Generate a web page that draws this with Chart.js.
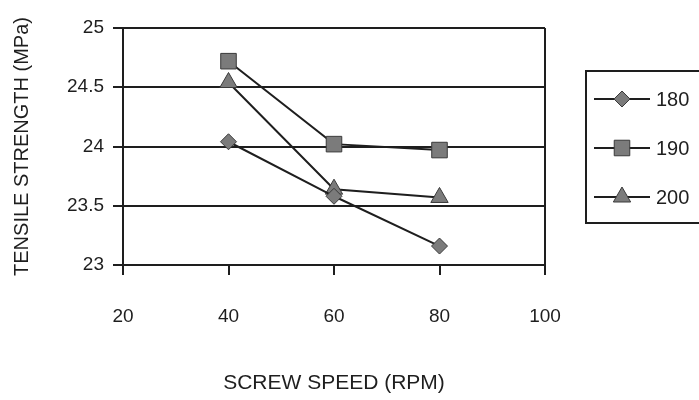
<!DOCTYPE html>
<html>
<head>
<meta charset="utf-8">
<title>Tensile strength vs screw speed</title>
<script src="https://cdn.jsdelivr.net/npm/chart.js@4/dist/chart.umd.min.js"></script>
<style>
  html, body { margin: 0; padding: 0; background: #ffffff; }
  #wrap { width: 699px; height: 400px; }
</style>
</head>
<body>
<div id="wrap"><canvas id="c" width="699" height="400"></canvas></div>
<script>
// Screw speed (RPM) and tensile strength (MPa) for three barrel temperatures
const screwSpeed = [40, 60, 80];
const temp180 = [24.04, 23.58, 23.16];
const temp190 = [24.72, 24.02, 23.97];
const temp200 = [24.54, 23.64, 23.57];
const seriesLabels = ['180', '190', '200'];

const xTicks = [20, 40, 60, 80, 100];
const yTicks = [23, 23.5, 24, 24.5, 25];

const INK = '#1e1e1e';
const MARK = '#7b7b7b';
const FONT = "'Liberation Sans', Arial, sans-serif";

function toPoints(values) {
  return screwSpeed.map((s, i) => ({ x: s, y: values[i] }));
}

const styles = [
  { pointStyle: 'rectRot', pointRadius: 8 },
  { pointStyle: 'rect', pointRadius: 11 },
  { pointStyle: 'triangle', pointRadius: 10 }
];

const datasets = [temp180, temp190, temp200].map((vals, i) => ({
  label: seriesLabels[i],
  data: toPoints(vals),
  borderColor: INK,
  borderWidth: 2,
  backgroundColor: MARK,
  pointBackgroundColor: MARK,
  pointBorderColor: '#3a3a3a',
  pointBorderWidth: 1,
  pointStyle: styles[i].pointStyle,
  pointRadius: styles[i].pointRadius,
  tension: 0
}));

// Boxed legend on the right-hand side
const boxLegend = {
  id: 'boxLegend',
  afterDraw(chart) {
    const ctx = chart.ctx;
    ctx.save();
    ctx.strokeStyle = INK;
    ctx.lineWidth = 2;
    ctx.strokeRect(586, 71, 130, 152);
    const rows = [99, 148, 197];
    chart.data.datasets.forEach((ds, i) => {
      const y = rows[i];
      ctx.strokeStyle = INK;
      ctx.lineWidth = 2;
      ctx.beginPath();
      ctx.moveTo(594, y);
      ctx.lineTo(650, y);
      ctx.stroke();
      ctx.fillStyle = MARK;
      ctx.strokeStyle = '#3a3a3a';
      ctx.lineWidth = 1;
      Chart.helpers.drawPoint(ctx, {
        pointStyle: ds.pointStyle,
        radius: ds.pointRadius,
        rotation: 0,
        borderWidth: 1
      }, 622, y);
      ctx.fillStyle = INK;
      ctx.font = '20px ' + FONT;
      ctx.textBaseline = 'middle';
      ctx.textAlign = 'left';
      ctx.fillText(ds.label, 656, y + 1);
    });
    ctx.restore();
  }
};

new Chart(document.getElementById('c'), {
  type: 'line',
  data: { datasets },
  options: {
    responsive: false,
    animation: false,
    devicePixelRatio: 1,
    layout: { padding: { top: 28, right: 154, left: 0, bottom: 0 } },
    plugins: {
      legend: { display: false },
      tooltip: { enabled: false }
    },
    scales: {
      x: {
        type: 'linear',
        min: 20,
        max: 100,
        afterBuildTicks(scale) { scale.ticks = xTicks.map(v => ({ value: v })); },
        afterFit(scale) { scale.height = 135; },
        border: { display: true, color: INK, width: 2 },
        grid: {
          drawOnChartArea: true,
          color: c => (c.tick && c.tick.value === 100 ? INK : 'rgba(0,0,0,0)'),
          lineWidth: 2,
          tickColor: INK,
          tickLength: 10
        },
        ticks: {
          color: INK,
          padding: 30,
          maxRotation: 0,
          callback: v => String(v),
          font: { family: FONT, size: 19 }
        },
        title: {
          display: true,
          text: 'SCREW SPEED (RPM)',
          color: INK,
          font: { family: FONT, size: 21 },
          padding: { top: 0, bottom: 4 }
        }
      },
      y: {
        min: 23,
        max: 25,
        afterBuildTicks(scale) { scale.ticks = yTicks.map(v => ({ value: v })); },
        afterFit(scale) { scale.width = 123; },
        border: { display: true, color: INK, width: 2 },
        grid: {
          color: INK,
          lineWidth: 2,
          tickColor: INK,
          tickLength: 10
        },
        ticks: {
          color: INK,
          padding: 9,
          callback: v => String(v),
          font: { family: FONT, size: 19 }
        },
        title: {
          display: true,
          text: 'TENSILE STRENGTH (MPa)',
          color: INK,
          font: { family: FONT, size: 20 },
          padding: { top: 10, bottom: 0 }
        }
      }
    }
  },
  plugins: [boxLegend]
});
</script>
</body>
</html>
